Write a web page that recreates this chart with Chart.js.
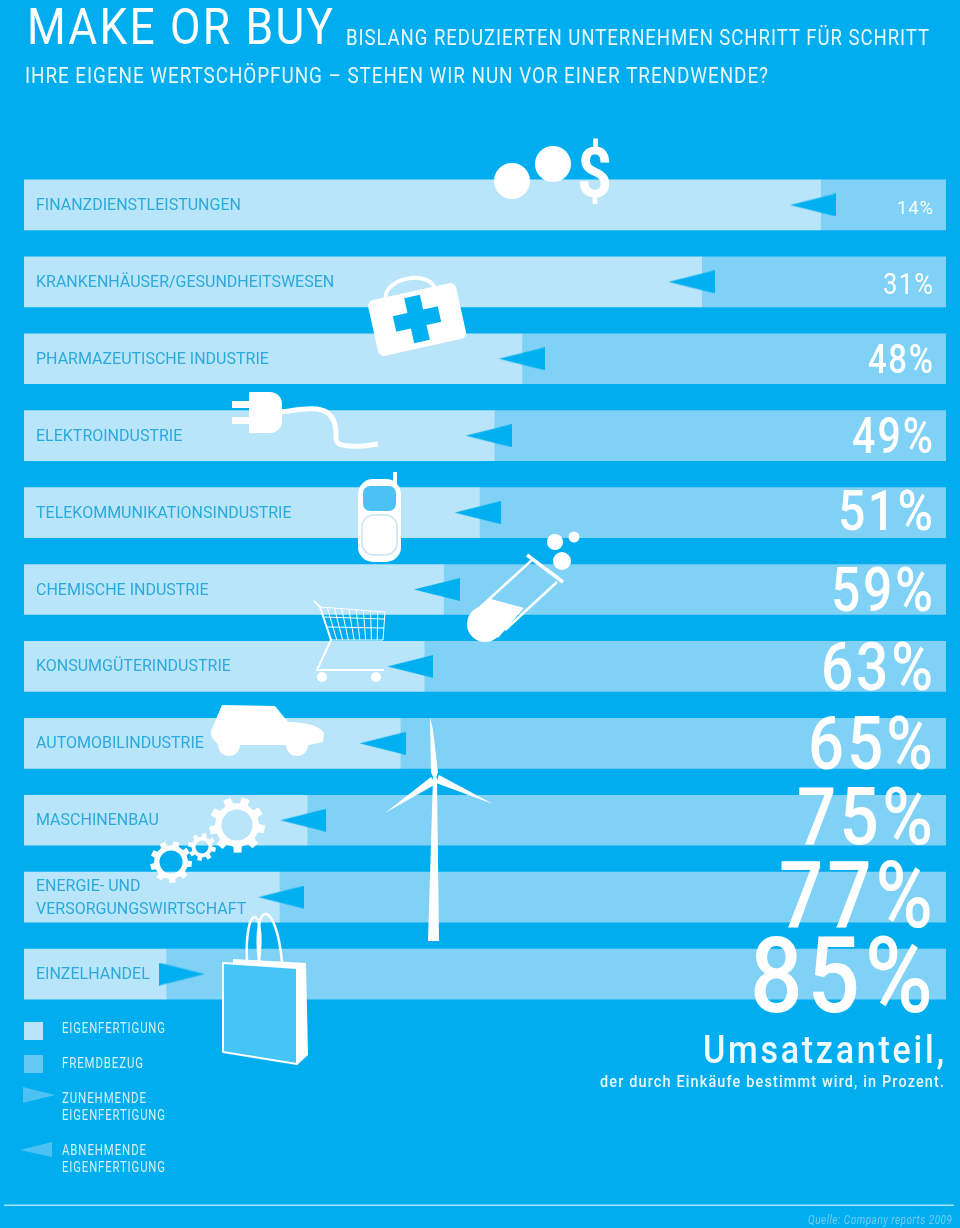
<!DOCTYPE html>
<html lang="de">
<head>
<meta charset="utf-8">
<title>Make or Buy</title>
<script src="https://cdn.jsdelivr.net/npm/chart.js@4/dist/chart.umd.min.js"></script>
<style>
	html, body { margin: 0; padding: 0; background: #00aeef; }
	canvas { display: block; }
</style>
</head>
<body>
<canvas id="makeOrBuy" width="960" height="1228"></canvas>
<script>
const categories = [
	'FINANZDIENSTLEISTUNGEN', 'KRANKENHÄUSER/GESUNDHEITSWESEN', 'PHARMAZEUTISCHE INDUSTRIE',
	'ELEKTROINDUSTRIE', 'TELEKOMMUNIKATIONSINDUSTRIE', 'CHEMISCHE INDUSTRIE', 'KONSUMGÜTERINDUSTRIE',
	'AUTOMOBILINDUSTRIE', 'MASCHINENBAU', ['ENERGIE- UND', 'VERSORGUNGSWIRTSCHAFT'], 'EINZELHANDEL'
];
// bar lengths as drawn in the picture (they differ a bit from the printed labels)
const eigenfertigung = [86.4, 73.5, 54, 51, 49.4, 45.5, 43.4, 40.8, 30.7, 27.7, 15.4];
const fremdbezug = [13.6, 26.5, 46, 49, 50.6, 54.5, 56.6, 59.2, 69.3, 72.3, 84.6];
const trendPosition = [85.6, 72.4, 54, 50.4, 49.2, 44.8, 41.9, 38.9, 30.3, 27.9, 17.1];
const trendUp = [false, false, false, false, false, false, false, false, false, false, true];
const umsatzLabels = ['14%', '31%', '48%', '49%', '51%', '59%', '63%', '65%', '75%', '77%', '85%'];

const BG = '#00aeef';
const EIGEN = '#b9e5fa';
const FREMD = '#80d1f6';
const WHITE = '#ffffff';
const FONT = 'Roboto, sans-serif';

// cap height, width and baseline shift for each percent label
const labelCap = [13, 21, 29, 35, 39, 43, 47, 53, 57, 66, 75];
const labelWidth = [36, 50, 65, 81, 95, 102, 112, 125, 136, 154, 183];
const labelBase = [9, 12.5, 14.5, 17, 17, 21, 24, 26, 24, 30, 38];

// text squeezed to the given width, x is the left edge, spacing in em
function fitText(ctx, str, x, base, cap, width, color, style, spacing) {
	const size = cap / 0.711;
	const gap = (spacing || 0) * size;
	ctx.save();
	ctx.font = (style || '400') + ' ' + size + 'px ' + FONT;
	ctx.letterSpacing = gap + 'px';
	ctx.fillStyle = color;
	ctx.textAlign = 'left';
	ctx.textBaseline = 'alphabetic';
	ctx.translate(x, base);
	ctx.scale(width / (ctx.measureText(str).width - gap), 1);
	ctx.fillText(str, 0, 0);
	ctx.restore();
}

function triangle(right, color, w, h) {
	const c = document.createElement('canvas');
	c.width = w;
	c.height = h;
	const g = c.getContext('2d');
	g.fillStyle = color;
	g.beginPath();
	if (right) {
		g.moveTo(0, 0); g.lineTo(w, h / 2); g.lineTo(0, h);
	} else {
		g.moveTo(w, 0); g.lineTo(0, h / 2); g.lineTo(w, h);
	}
	g.closePath();
	g.fill();
	return c;
}
const triLeft = triangle(false, '#00b0f0', 46, 23);
const triRight = triangle(true, '#00b0f0', 46, 23);

function poly(ctx, pts) {
	ctx.beginPath();
	pts.forEach((p, i) => i ? ctx.lineTo(p[0], p[1]) : ctx.moveTo(p[0], p[1]));
	ctx.closePath();
}

function line(ctx, x1, y1, x2, y2) {
	ctx.beginPath();
	ctx.moveTo(x1, y1);
	ctx.lineTo(x2, y2);
	ctx.stroke();
}

function gear(ctx, cx, cy, outer, inner, hole, teeth, rot) {
	ctx.beginPath();
	for (let i = 0; i < teeth; i++) {
		const a = rot + i * 2 * Math.PI / teeth;
		const t = Math.PI / teeth;
		const pts = [[inner, a - t * 0.55], [outer, a - t * 0.4], [outer, a + t * 0.4], [inner, a + t * 0.55]];
		pts.forEach((p, j) => {
			const px = cx + p[0] * Math.cos(p[1]);
			const py = cy + p[0] * Math.sin(p[1]);
			if (i === 0 && j === 0) ctx.moveTo(px, py); else ctx.lineTo(px, py);
		});
	}
	ctx.closePath();
	ctx.moveTo(cx + hole, cy);
	ctx.arc(cx, cy, hole, 0, 2 * Math.PI, true);
	ctx.fill('evenodd');
}

function drawIcons(ctx) {
	ctx.save();
	ctx.fillStyle = WHITE;
	ctx.strokeStyle = WHITE;
	ctx.lineCap = 'butt';

	// coins and dollar
	ctx.beginPath(); ctx.arc(512, 181, 18, 0, 2 * Math.PI); ctx.fill();
	ctx.beginPath(); ctx.arc(553, 164, 18, 0, 2 * Math.PI); ctx.fill();
	fitText(ctx, '$', 577, 197, 50, 35, WHITE, '700');

	// first aid kit
	ctx.save();
	ctx.translate(417, 319);
	ctx.rotate(-12.5 * Math.PI / 180);
	ctx.lineWidth = 4;
	ctx.beginPath();
	ctx.moveTo(-26, -28);
	ctx.bezierCurveTo(-22, -46, 18, -46, 24, -28);
	ctx.stroke();
	ctx.beginPath();
	ctx.roundRect(-45, -28, 90, 57, 6);
	ctx.fill();
	ctx.fillStyle = '#00b0f0';
	ctx.fillRect(-23, -8, 46, 16);
	ctx.fillRect(-8, -23, 16, 46);
	ctx.restore();

	// plug
	ctx.fillRect(232, 401, 18, 7);
	ctx.fillRect(232, 417, 18, 7);
	ctx.beginPath();
	ctx.roundRect(249, 392, 33, 41, [1, 12, 12, 1]);
	ctx.fill();
	ctx.lineWidth = 5;
	ctx.beginPath();
	ctx.moveTo(281, 412);
	ctx.bezierCurveTo(300, 410, 328, 402, 334, 422);
	ctx.bezierCurveTo(340, 436, 328, 445, 350, 446);
	ctx.bezierCurveTo(360, 447, 370, 445, 378, 444);
	ctx.stroke();

	// phone
	ctx.fillRect(393, 472, 4, 14);
	ctx.beginPath();
	ctx.roundRect(358, 479, 43, 83, 15);
	ctx.fill();
	ctx.fillStyle = '#4cc2f4';
	ctx.beginPath();
	ctx.roundRect(363, 486, 33, 25, 7);
	ctx.fill();
	ctx.strokeStyle = '#c6e6f2';
	ctx.lineWidth = 1.5;
	ctx.beginPath();
	ctx.roundRect(362, 515, 35, 40, 12);
	ctx.stroke();
	ctx.strokeStyle = WHITE;
	ctx.fillStyle = WHITE;

	// test tube
	ctx.lineWidth = 3.5;
	line(ctx, 527, 555, 563, 582);
	ctx.lineWidth = 2.5;
	line(ctx, 532, 560, 475, 612);
	line(ctx, 557, 582, 505, 630);
	poly(ctx, [[491, 599], [524, 608], [498, 638], [472, 612]]);
	ctx.fill();
	ctx.beginPath(); ctx.arc(485, 624, 18, 0, 2 * Math.PI); ctx.fill();
	ctx.beginPath(); ctx.arc(555, 542, 8, 0, 2 * Math.PI); ctx.fill();
	ctx.beginPath(); ctx.arc(574, 537, 5.5, 0, 2 * Math.PI); ctx.fill();
	ctx.beginPath(); ctx.arc(562, 561, 9, 0, 2 * Math.PI); ctx.fill();

	// cart
	ctx.lineWidth = 2;
	ctx.lineJoin = 'round';
	ctx.beginPath();
	ctx.moveTo(314, 601);
	ctx.lineTo(320, 607);
	ctx.lineTo(331, 640);
	ctx.lineTo(317, 670);
	ctx.lineTo(384, 670);
	ctx.stroke();
	ctx.lineWidth = 1;
	poly(ctx, [[320, 607], [385, 612], [383, 640], [331, 640]]);
	ctx.stroke();
	for (let i = 1; i < 9; i++) {
		const t = i / 9;
		line(ctx, 320 + 65 * t, 607 + 5 * t, 331 + 52 * t, 640);
	}
	line(ctx, 324, 617, 384, 619);
	line(ctx, 327, 627, 384, 628);
	ctx.beginPath(); ctx.arc(322, 677, 5, 0, 2 * Math.PI); ctx.fill();
	ctx.beginPath(); ctx.arc(376, 677, 5, 0, 2 * Math.PI); ctx.fill();

	// car
	ctx.beginPath();
	ctx.moveTo(222, 705);
	ctx.lineTo(275, 706);
	ctx.lineTo(288, 722);
	ctx.bezierCurveTo(305, 722, 322, 726, 324, 734);
	ctx.lineTo(323, 742);
	ctx.lineTo(308, 745);
	ctx.lineTo(220, 745);
	ctx.bezierCurveTo(214, 742, 210, 736, 211, 731);
	ctx.closePath();
	ctx.fill();
	ctx.beginPath(); ctx.arc(229, 745, 11, 0, 2 * Math.PI); ctx.fill();
	ctx.beginPath(); ctx.arc(297, 745, 11, 0, 2 * Math.PI); ctx.fill();

	// wind turbine
	poly(ctx, [[433, 778], [437, 778], [439, 941], [428, 941]]);
	ctx.fill();
	poly(ctx, [[430, 717], [433, 730], [438, 772], [435, 782], [431, 772]]);
	ctx.fill();
	poly(ctx, [[385, 813], [431, 777], [436, 784]]);
	ctx.fill();
	poly(ctx, [[493, 804], [439, 775], [436, 783]]);
	ctx.fill();

	// gears
	gear(ctx, 237, 825, 28, 22, 15.5, 9, 0.15);
	gear(ctx, 202, 847, 14, 10.5, 6.5, 8, 0.2);
	gear(ctx, 171, 862, 21, 17, 11.5, 9, 0.1);

	// shopping bag
	ctx.lineWidth = 2.5;
	ctx.beginPath();
	ctx.moveTo(247, 962);
	ctx.bezierCurveTo(244, 902, 266, 902, 259, 962);
	ctx.stroke();
	ctx.beginPath();
	ctx.moveTo(259, 962);
	ctx.bezierCurveTo(252, 898, 276, 898, 282, 962);
	ctx.stroke();
	poly(ctx, [[233, 959], [306, 963], [308, 1055], [297, 1065], [296, 968], [233, 965]]);
	ctx.fill();
	ctx.fillStyle = '#45c4f6';
	ctx.strokeStyle = WHITE;
	ctx.lineWidth = 2;
	poly(ctx, [[223, 963], [297, 968], [297, 1064], [223, 1052]]);
	ctx.fill();
	ctx.stroke();
	ctx.restore();
}

function drawLegend(ctx) {
	ctx.fillStyle = EIGEN;
	ctx.fillRect(24, 1022, 19, 18);
	ctx.fillStyle = '#66c9f5';
	ctx.fillRect(24, 1055, 19, 18);
	ctx.fillStyle = '#4cc2f4';
	poly(ctx, [[23, 1087], [55, 1095], [23, 1103]]);
	ctx.fill();
	poly(ctx, [[52, 1142], [20, 1150], [52, 1157]]);
	ctx.fill();
	const c = '#d6f1fc';
	fitText(ctx, 'EIGENFERTIGUNG', 62, 1033, 10, 103, c, '400', 0.08);
	fitText(ctx, 'FREMDBEZUG', 62, 1068, 10, 81, c, '400', 0.08);
	fitText(ctx, 'ZUNEHMENDE', 62, 1103, 10, 84, c, '400', 0.08);
	fitText(ctx, 'EIGENFERTIGUNG', 62, 1120, 10, 103, c, '400', 0.08);
	fitText(ctx, 'ABNEHMENDE', 62, 1155, 10, 84, c, '400', 0.08);
	fitText(ctx, 'EIGENFERTIGUNG', 62, 1172, 10, 103, c, '400', 0.08);
}

const overlay = {
	id: 'overlay',
	afterDatasetsDraw(chart) {
		const ctx = chart.ctx;
		drawIcons(ctx);
		// percent labels sit on the bars of the second dataset
		const bars = chart.getDatasetMeta(1).data;
		umsatzLabels.forEach((txt, i) => {
			const weight = labelCap[i] < 25 ? '400' : '500';
			fitText(ctx, txt, 933 - labelWidth[i], bars[i].y + labelBase[i], labelCap[i], labelWidth[i], WHITE, weight, 0.05);
		});
	},
	afterDraw(chart) {
		const ctx = chart.ctx;
		fitText(ctx, 'MAKE OR BUY', 27, 44, 36, 306, WHITE, '400', 0.05);
		fitText(ctx, 'BISLANG REDUZIERTEN UNTERNEHMEN SCHRITT FÜR SCHRITT', 346, 45, 15.5, 583, '#e8f8fe', '400', 0.05);
		fitText(ctx, 'IHRE EIGENE WERTSCHÖPFUNG – STEHEN WIR NUN VOR EINER TRENDWENDE?', 25, 83, 15.5, 743, '#e8f8fe', '400', 0.05);
		fitText(ctx, 'Umsatzanteil,', 703, 1063, 27, 241, '#f0fbff', '500', 0.08);
		fitText(ctx, 'der durch Einkäufe bestimmt wird, in Prozent.', 600, 1087, 12, 344, '#e8f8fe', '500', 0.08);
		drawLegend(ctx);
		ctx.fillStyle = '#a6e2fb';
		ctx.fillRect(4, 1204.5, 950, 1.5);
		fitText(ctx, 'Quelle: Company reports 2009', 808, 1224, 8.5, 144, '#72cdf5', 'italic 400', 0.05);
	}
};

new Chart(document.getElementById('makeOrBuy'), {
	data: {
		labels: categories,
		datasets: [
			{ type: 'bar', label: 'Eigenfertigung', data: eigenfertigung, backgroundColor: EIGEN, barThickness: 50, order: 3 },
			{ type: 'bar', label: 'Fremdbezug', data: fremdbezug, backgroundColor: FREMD, barThickness: 50, order: 3 },
			{
				type: 'line',
				label: 'Trend',
				data: trendPosition,
				showLine: false,
				order: 1,
				pointRadius: 12,
				pointStyle: c => trendUp[c.dataIndex] ? triRight : triLeft
			}
		]
	},
	options: {
		indexAxis: 'y',
		responsive: false,
		animation: false,
		layout: { padding: { left: 24, right: 14, top: 166.5, bottom: 215.5 } },
		plugins: { legend: { display: false }, tooltip: { enabled: false } },
		scales: {
			x: { display: false, stacked: true, min: 0, max: 100 },
			y: {
				stacked: true,
				offset: true,
				position: 'left',
				grid: { display: false, drawTicks: false },
				border: { display: false },
				afterFit: s => { s.width = 0; },
				ticks: {
					mirror: true,
					z: 2,
					padding: 12,
					labelOffset: 1,
					autoSkip: false,
					color: '#2aa9dd',
					font: { family: FONT, size: 16, weight: '400', lineHeight: 1.45 }
				}
			}
		}
	},
	plugins: [overlay]
});
</script>
</body>
</html>
